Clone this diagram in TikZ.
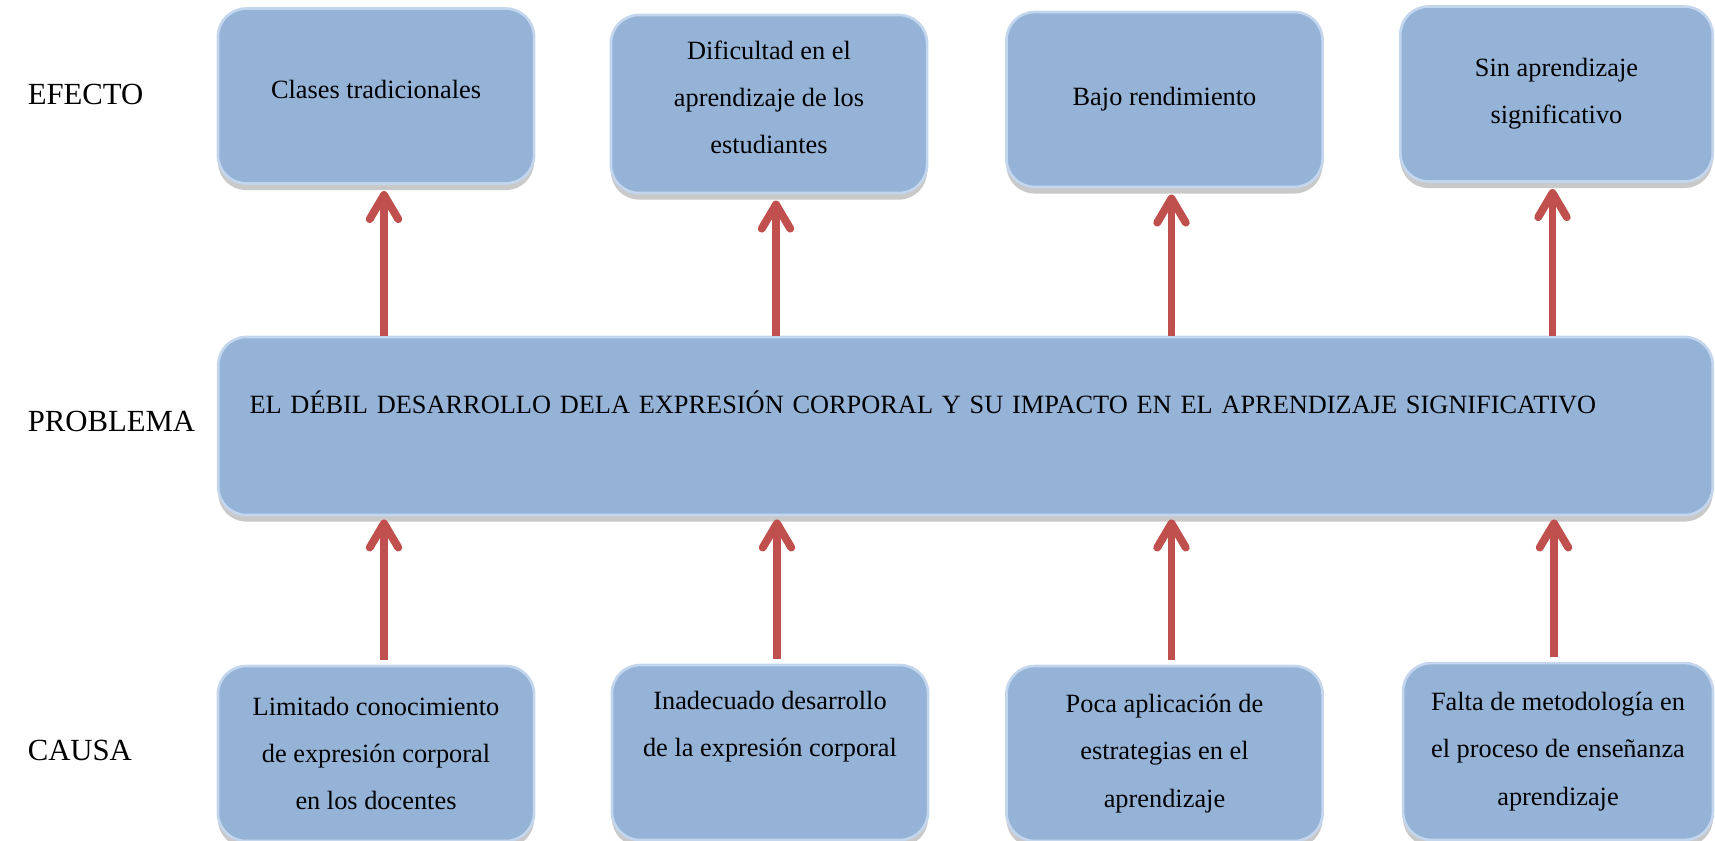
\documentclass[tikz,border=0pt]{standalone}
\usepackage{fontspec}
\setmainfont{Liberation Serif}
\usetikzlibrary{arrows.meta,shadows}

\definecolor{boxblue}{RGB}{149,179,215}
\definecolor{boxedge}{RGB}{196,214,237}
\definecolor{arrowred}{RGB}{192,80,77}

\tikzset{
  box/.style={draw=boxedge, line width=1.2pt, fill=boxblue, rounded corners=0.45cm,
    minimum width=5.06cm, minimum height=2.8cm, align=center,
    font=\fontsize{12}{21.5}\selectfont,
    drop shadow={shadow xshift=0pt, shadow yshift=-3pt, opacity=0.3, fill=black!70}},
  rowlabel/.style={anchor=west, font=\fontsize{14}{17}\selectfont},
  uparrow/.style={draw=arrowred, line width=3.6pt,
    -{Straight Barb[round, length=11pt, width=13pt]}}
}

\begin{document}
\begin{tikzpicture}[x=0.016cm, y=-0.016cm]
    \useasboundingbox (0,0) rectangle (1715,841);

    % Row labels
    \node[rowlabel] (lefecto) at (20,94) {EFECTO};
    \node[rowlabel] (lproblema) at (20,421) {PROBLEMA};
    \node[rowlabel] (lcausa) at (20,750) {CAUSA};

    % Effects
    \node[box, text depth=6pt] (e1) at (376,96) {Clases tradicionales};
    \node[box, minimum height=2.85cm, text depth=6pt] (e2) at (769,104) {Dificultad en el\\aprendizaje de los\\estudiantes};
    \node[box] (e3) at (1164.5,99.5) {Bajo rendimiento};
    \node[box, minimum width=5.0cm] (e4) at (1556.5,94) {Sin aprendizaje\\significativo};

    % Problem
    \node[box, minimum width=23.92cm, minimum height=2.85cm, align=left,
          text width=22.92cm, inner xsep=0.5cm, text height=10pt, text depth=21pt]
        (p) at (965.5,426) {EL DÉBIL DESARROLLO DELA EXPRESIÓN CORPORAL Y SU IMPACTO EN EL APRENDIZAJE SIGNIFICATIVO};

    % Causes
    \node[box] (c1) at (376,753.5) {Limitado conocimiento\\de expresión corporal\\en los docentes};
    \node[box, text depth=26pt] (c2) at (770,752.5) {Inadecuado desarrollo\\de la expresión corporal};
    \node[box] (c3) at (1164.5,753.5) {Poca aplicación de\\estrategias en el\\aprendizaje};
    \node[box, minimum width=4.96cm, minimum height=2.83cm] (c4) at (1558,751.5) {Falta de metodología en\\el proceso de enseñanza\\aprendizaje};

    % Arrows: causes to problem, problem to effects (slightly off the box centres)
    \foreach \n/\dx in {1/8, 2/7, 3/7, 4/-4} {
        \coordinate (t\n) at ([xshift=\dx*0.016cm]e\n.south);
        \coordinate (b\n) at ([xshift=\dx*0.016cm]c\n.north);
        \draw[uparrow, shorten >=0.1cm] (t\n |- p.north) -- (t\n);
        \draw[uparrow, shorten <=0.08cm, shorten >=0.05cm] (b\n) -- (b\n |- p.south);
    }
\end{tikzpicture}
\end{document}
